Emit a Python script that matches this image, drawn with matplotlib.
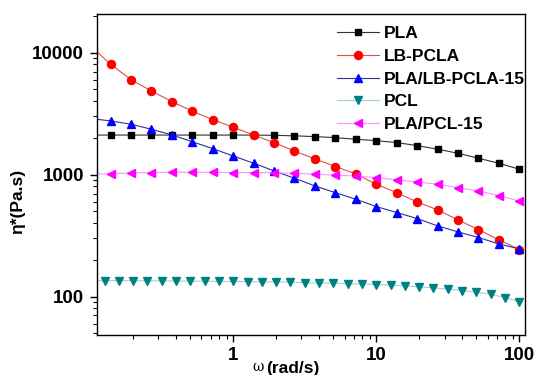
import numpy as np
import matplotlib
matplotlib.use('Agg')
import matplotlib.pyplot as plt
from matplotlib.ticker import LogLocator, NullFormatter, FixedLocator

plt.rcParams['font.family'] = ['Liberation Sans', 'DejaVu Sans']
plt.rcParams['font.weight'] = 'bold'

# frequencias (rad/s)
w7 = [0.139, 0.193, 0.268, 0.373, 0.518, 0.720, 1.0, 1.39, 1.93, 2.68, 3.73,
      5.18, 7.20, 10.0, 13.9, 19.3, 26.8, 37.3, 51.8, 72.0, 100.0]
w_pcl = [0.126, 0.158, 0.200, 0.251, 0.316, 0.398, 0.501, 0.631, 0.794, 1.0,
         1.26, 1.58, 2.00, 2.51, 3.16, 3.98, 5.01, 6.31, 7.94, 10.0,
         12.6, 15.8, 20.0, 25.1, 31.6, 39.8, 50.1, 63.1, 79.4, 100.0]

# viscosidade complexa (Pa.s)
pla = [2110, 2110, 2110, 2110, 2110, 2110, 2110, 2110, 2100, 2080, 2050,
       2010, 1950, 1900, 1830, 1730, 1616, 1497, 1362, 1240, 1107]
lb_pcla = [8040, 6010, 4850, 3970, 3310, 2820, 2450, 2110, 1830, 1560, 1345,
           1165, 1013, 834, 711, 597, 514, 425, 354, 292, 243]
pla_lb15 = [2755, 2590, 2355, 2115, 1860, 1633, 1423, 1240, 1072, 934, 807,
            711, 628, 547, 489, 436, 380, 339, 305, 270, 246]
pcl = [135, 135, 135, 134.5, 134.5, 134, 134, 133.5, 133, 133, 132.5, 132,
       132, 131.5, 130, 129, 129, 127, 127, 125.5, 124, 122.5, 120, 118,
       115, 112, 108.5, 104.5, 98, 91]
pla_pcl15 = [1019, 1032, 1040, 1045, 1045, 1045, 1040, 1040, 1035, 1025, 1010,
             988, 976, 944, 906, 871, 834, 782, 735, 673, 605]

# curvas de ajuste: comecam na borda esquerda do grafico
w_borda = 0.111
borda = {'PLA': 2112, 'LB-PCLA': 10200, 'PLA/LB-PCLA-15': 2845,
         'PCL': 135, 'PLA/PCL-15': 1010}

series = [
    ('PLA', w7, pla, 's', 'black', '#333333', 5.0, '-'),
    ('LB-PCLA', w7, lb_pcla, 'o', '#ff0000', '#e05050', 5.8, '-'),
    ('PLA/LB-PCLA-15', w7, pla_lb15, '^', '#0000ff', '#3030a0', 6.0, '-'),
    ('PCL', w_pcl, pcl, 'v', '#008080', '#9fd0d0', 6.0, '-'),
    ('PLA/PCL-15', w7, pla_pcl15, '<', '#ff00ff', '#ff90ff', 6.0, '-'),
]

fig = plt.figure(figsize=(5.37, 3.75), dpi=100)
ax = fig.add_axes([0.180, 0.107, 0.7977, 0.8556])

for nome, w, y, mk, cor, cor_linha, ms, ls in series:
    ax.plot([w_borda] + list(w), [borda[nome]] + list(y), color=cor_linha,
            lw=0.8, ls=ls, zorder=2)
    ax.plot(w, y, ls='none', marker=mk, color=cor, ms=ms, mec=cor, zorder=3)
    # entrada da legenda: linha + marcador
    ax.plot([], [], color=cor_linha, lw=0.8, marker=mk, mfc=cor, mec=cor,
            ms=ms, label=nome)

ax.set_xscale('log')
ax.set_yscale('log')
ax.set_xlim(0.111, 109.6)
ax.set_ylim(48.5, 20750)

ax.xaxis.set_major_locator(FixedLocator([1, 10, 100]))
ax.set_xticklabels(['1', '10', '100'])
ax.yaxis.set_major_locator(FixedLocator([100, 1000, 10000]))
ax.set_yticklabels(['100', '1000', '10000'])
ax.xaxis.set_minor_locator(LogLocator(base=10, subs=np.arange(2, 10)))
ax.yaxis.set_minor_locator(LogLocator(base=10, subs=np.arange(2, 10)))
ax.xaxis.set_minor_formatter(NullFormatter())
ax.yaxis.set_minor_formatter(NullFormatter())

ax.tick_params(which='major', direction='out', length=5, width=1,
               labelsize=13.5, pad=4)
ax.tick_params(which='minor', direction='out', length=3, width=0.8)
for s in ax.spines.values():
    s.set_linewidth(1.0)

fig.text(0.470, 0.002, '\u03c9', fontsize=10, fontweight='normal',
         ha='left', va='bottom', family='DejaVu Serif')
fig.text(0.496, -0.004, '(rad/s)', fontsize=12.5, ha='left', va='bottom')
fig.text(0.033, 1 - 201 / 375, '\u03b7*(Pa.s)', fontsize=12.5, rotation=90,
         ha='center', va='center')

leg = ax.legend(loc='upper left', bbox_to_anchor=(0.561, 0.962),
                frameon=False, fontsize=12.5, handlelength=2.4,
                handletextpad=0.3, labelspacing=0.43, borderpad=0,
                borderaxespad=0)

fig.savefig('out.png', dpi=100)
